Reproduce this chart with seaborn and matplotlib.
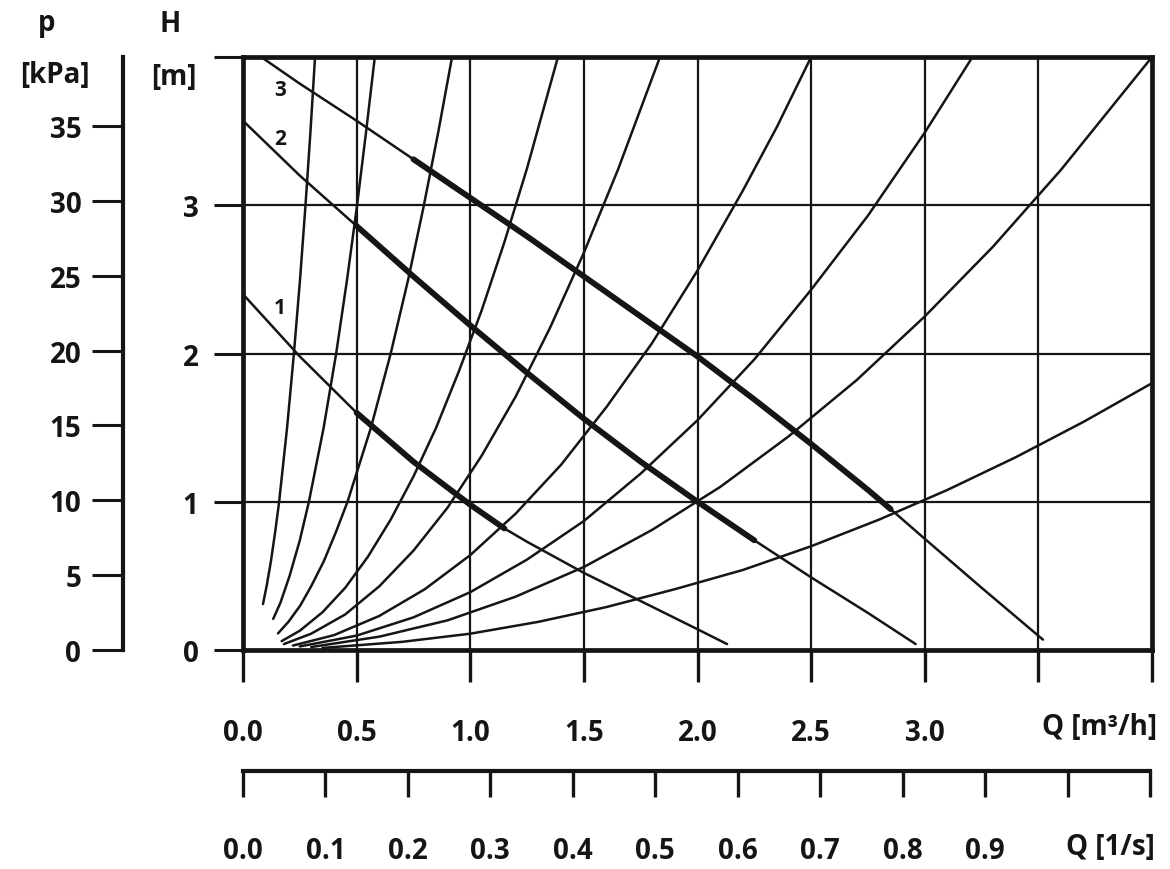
import matplotlib
matplotlib.use("Agg")
import matplotlib.pyplot as plt
import seaborn as sns

# ---------------- axis ticks / labels ----------------
q_m3h_ticks = [0.0, 0.5, 1.0, 1.5, 2.0, 2.5, 3.0, 3.5, 4.0]
q_m3h_labels = ["0.0", "0.5", "1.0", "1.5", "2.0", "2.5", "3.0", "", ""]
q_ls_ticks = [0.0, 0.1, 0.2, 0.3, 0.4, 0.5, 0.6, 0.7, 0.8, 0.9, 1.0, 1.1]
q_ls_labels = ["0.0", "0.1", "0.2", "0.3", "0.4", "0.5", "0.6", "0.7", "0.8", "0.9", "", ""]
h_ticks = [0, 1, 2, 3, 4]
h_labels = ["0", "1", "2", "3", ""]
p_ticks = [0, 5, 10, 15, 20, 25, 30, 35]
p_labels = ["0", "5", "10", "15", "20", "25", "30", "35"]

# ---------------- pump curves (Q [m3/h], H [m]) ----------------
pump1_q = [0.0, 0.25, 0.50, 0.75, 1.00, 1.15, 1.25, 1.50, 1.75, 2.00, 2.13]
pump1_h = [2.40, 1.98, 1.60, 1.27, 0.98, 0.82, 0.73, 0.52, 0.33, 0.14, 0.04]
pump1_bold = (0.50, 1.15)

pump2_q = [0.0, 0.25, 0.50, 0.75, 1.00, 1.25, 1.50, 1.75, 2.00, 2.25, 2.50, 2.75, 2.96]
pump2_h = [3.57, 3.20, 2.86, 2.52, 2.19, 1.87, 1.56, 1.27, 1.00, 0.74, 0.49, 0.25, 0.04]
pump2_bold = (0.50, 2.25)

pump3_q = [0.08, 0.25, 0.50, 0.75, 1.00, 1.25, 1.50, 1.75, 2.00, 2.25, 2.50, 2.75,
           2.85, 3.00, 3.25, 3.52]
pump3_h = [4.00, 3.82, 3.57, 3.31, 3.05, 2.79, 2.52, 2.25, 1.98, 1.69, 1.39, 1.08,
           0.95, 0.75, 0.42, 0.07]
pump3_bold = (0.75, 2.85)

pump_names = ["1", "2", "3"]
pump_label_q = [0.163, 0.163, 0.163]
pump_label_h = [2.31, 3.45, 3.78]

# ---------------- system curves ----------------
sys1_q = [0.088, 0.105, 0.123, 0.141, 0.159, 0.194, 0.224, 0.251, 0.275, 0.297, 0.317]
sys1_h = [0.31, 0.44, 0.60, 0.79, 1.00, 1.50, 2.00, 2.50, 3.00, 3.50, 4.00]
sys2_q = [0.133, 0.165, 0.205, 0.250, 0.290, 0.355, 0.410, 0.458, 0.502, 0.542, 0.580]
sys2_h = [0.21, 0.32, 0.50, 0.74, 1.00, 1.50, 2.00, 2.50, 3.00, 3.50, 4.00]
sys3_q = [0.154, 0.200, 0.252, 0.300, 0.356, 0.410, 0.460, 0.563, 0.650, 0.727, 0.796,
          0.860, 0.920]
sys3_h = [0.112, 0.19, 0.30, 0.43, 0.60, 0.80, 1.00, 1.50, 2.00, 2.50, 3.00, 3.50, 4.00]
sys4_q = [0.17, 0.25, 0.35, 0.45, 0.55, 0.65, 0.75, 0.85, 0.95, 1.05, 1.15, 1.25, 1.386]
sys4_h = [0.06, 0.13, 0.255, 0.42, 0.63, 0.88, 1.17, 1.50, 1.88, 2.29, 2.75, 3.25, 4.00]
sys5_q = [0.18, 0.30, 0.45, 0.60, 0.75, 0.90, 1.05, 1.20, 1.35, 1.50, 1.65, 1.835]
sys5_h = [0.04, 0.11, 0.24, 0.43, 0.67, 0.96, 1.31, 1.71, 2.17, 2.68, 3.24, 4.00]
sys6_q = [0.22, 0.40, 0.60, 0.80, 1.00, 1.20, 1.40, 1.60, 1.80, 2.00, 2.20, 2.35, 2.50]
sys6_h = [0.03, 0.10, 0.23, 0.41, 0.64, 0.92, 1.25, 1.64, 2.07, 2.56, 3.10, 3.53, 4.00]
sys7_q = [0.25, 0.50, 0.75, 1.00, 1.25, 1.50, 1.75, 2.00, 2.25, 2.50, 2.75, 3.00, 3.21]
sys7_h = [0.024, 0.097, 0.22, 0.39, 0.61, 0.87, 1.19, 1.55, 1.96, 2.43, 2.93, 3.49, 4.00]
sys8_q = [0.30, 0.60, 0.90, 1.20, 1.50, 1.80, 2.10, 2.40, 2.70, 3.00, 3.30, 3.60, 4.00]
sys8_h = [0.02, 0.09, 0.20, 0.36, 0.56, 0.81, 1.10, 1.44, 1.82, 2.25, 2.72, 3.24, 4.00]
sys9_q = [0.35, 0.70, 1.00, 1.30, 1.60, 1.90, 2.20, 2.50, 2.80, 3.10, 3.40, 3.70, 4.00]
sys9_h = [0.014, 0.055, 0.11, 0.19, 0.29, 0.41, 0.54, 0.70, 0.88, 1.08, 1.30, 1.54, 1.80]

# ---------------- style ----------------
sns.set_theme(style="white")
plt.rcParams["font.family"] = ["Open Sans", "DejaVu Sans"]
plt.rcParams["font.weight"] = "bold"
INK = "#151515"
W, H = 1170, 870

fig = plt.figure(figsize=(W / 100, H / 100), dpi=100)
fig.patch.set_facecolor("white")


def fx(px):
    return px / W


def fy(py):
    return 1 - py / H


# main axes
ax = fig.add_axes([fx(243), fy(651), fx(1152) - fx(243), fy(58) - fy(651)])
ax.set_facecolor("white")

system_curves = [(sys1_q, sys1_h), (sys2_q, sys2_h), (sys3_q, sys3_h),
                 (sys4_q, sys4_h), (sys5_q, sys5_h), (sys6_q, sys6_h),
                 (sys7_q, sys7_h), (sys8_q, sys8_h), (sys9_q, sys9_h)]
for q, h in system_curves:
    sns.lineplot(x=q, y=h, ax=ax, color=INK, linewidth=1.8, sort=False,
                 estimator=None, zorder=3)

pumps = [(pump1_q, pump1_h, pump1_bold), (pump2_q, pump2_h, pump2_bold),
         (pump3_q, pump3_h, pump3_bold)]
for q, h, (b0, b1) in pumps:
    sns.lineplot(x=q, y=h, ax=ax, color=INK, linewidth=1.8, sort=False,
                 estimator=None, zorder=3)
    bq = [a for a in q if b0 <= a <= b1]
    bh = [b for a, b in zip(q, h) if b0 <= a <= b1]
    sns.lineplot(x=bq, y=bh, ax=ax, color=INK, linewidth=4.2, sort=False,
                 estimator=None, zorder=4, solid_capstyle="round",
                 solid_joinstyle="round")

for name, lq, lh in zip(pump_names, pump_label_q, pump_label_h):
    ax.text(lq, lh, name, fontsize=15, fontweight="bold", color=INK,
            ha="center", va="center", zorder=5)

ax.set_xlim(0, 4)
ax.set_ylim(0, 4)
ax.set_xticks(q_m3h_ticks)
ax.set_xticklabels(q_m3h_labels)
ax.set_yticks(h_ticks)
ax.set_yticklabels(h_labels)
ax.set_xlabel("")
ax.set_ylabel("")
ax.grid(True, color=INK, linewidth=1.6)
ax.set_axisbelow(True)
for s in ax.spines.values():
    s.set_visible(True)
    s.set_color(INK)
    s.set_linewidth(3.4)
ax.tick_params(axis="x", direction="out", length=23, width=2.4, pad=26,
               colors=INK, labelsize=20, bottom=True)
ax.tick_params(axis="y", direction="out", length=21, width=2.2, pad=11,
               colors=INK, labelsize=20, left=True)
for lab in ax.get_xticklabels() + ax.get_yticklabels():
    lab.set_fontweight("bold")

# secondary Q [l/s] axis
ax2 = fig.add_axes([fx(243), fy(772), fx(1150) - fx(243), 0.0005])
ax2.set_facecolor("none")
ax2.set_xlim(0, 1.1)
ax2.set_yticks([])
for k in ["top", "left", "right"]:
    ax2.spines[k].set_visible(False)
ax2.spines["bottom"].set_color(INK)
ax2.spines["bottom"].set_linewidth(3.0)
ax2.set_xticks(q_ls_ticks)
ax2.set_xticklabels(q_ls_labels)
ax2.tick_params(axis="x", direction="out", length=19, width=2.4, pad=28,
                colors=INK, labelsize=20, bottom=True)
for lab in ax2.get_xticklabels():
    lab.set_fontweight("bold")

# pressure axis p [kPa]
ax3 = fig.add_axes([fx(123), fy(651), 0.0005, fy(58) - fy(651)])
ax3.set_facecolor("none")
ax3.set_ylim(0, 39.6)
ax3.set_xticks([])
for k in ["top", "bottom", "right"]:
    ax3.spines[k].set_visible(False)
ax3.spines["left"].set_color(INK)
ax3.spines["left"].set_linewidth(3.0)
ax3.set_yticks(p_ticks)
ax3.set_yticklabels(p_labels)
ax3.tick_params(axis="y", direction="out", length=22, width=2.2, pad=8,
                colors=INK, labelsize=20, left=True)
for lab in ax3.get_yticklabels():
    lab.set_fontweight("bold")

# axis titles
txt = dict(color=INK, fontweight="bold", fontsize=20, ha="center", va="center")
fig.text(fx(47), fy(24), "p", **txt)
fig.text(fx(55), fy(76), "[kPa]", **txt)
fig.text(fx(170), fy(24), "H", **txt)
fig.text(fx(174), fy(78), "[m]", **txt)
fig.text(fx(1100), fy(728), "Q [m³/h]", **txt)
fig.text(fx(1110), fy(848), "Q [1/s]", **txt)

fig.savefig("out.png", dpi=100, facecolor="white")
